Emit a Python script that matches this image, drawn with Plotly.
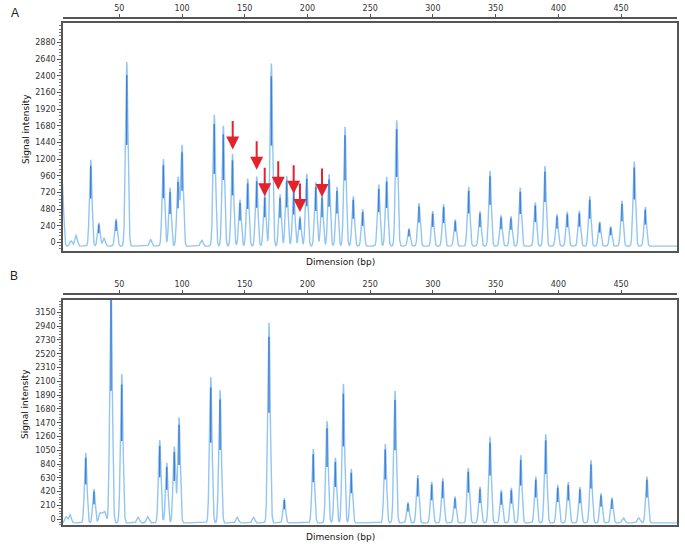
import numpy as np
import plotly.graph_objects as go

# ---------------- data ----------------
# Panel A: peak positions (bp) and peak signal intensities
top_pos = [4.5, 11.5, 15.5, 27.2, 33.6, 37.8, 47.4, 55.9, 75.0, 85.1, 90.4, 96.8, 100.0,
           115.7, 125.7, 132.9, 140.2, 146.2, 152.3, 159.5, 165.9, 171.2, 178.1, 183.4,
           189.0, 194.0, 199.4, 206.6, 211.6, 217.2, 223.5, 229.9, 236.5, 244.0, 256.8,
           263.1, 271.1, 280.9, 288.9, 299.8, 308.5, 317.8, 328.5, 337.5, 345.5, 354.3,
           362.2, 369.6, 381.6, 389.3, 398.9, 407.1, 416.7, 425.0, 432.9, 441.7, 450.7,
           460.5, 469.3]
top_val = [850, 20, 100, 1190, 280, 60, 340, 2600, 40, 1200, 790, 940, 1400,
           30, 1840, 1680, 1275, 615, 920, 950, 700, 2580, 690, 960,
           775, 375, 990, 865, 700, 980, 800, 1665, 665, 475, 835,
           945, 1760, 200, 565, 450, 550, 330, 800, 450, 1030, 390,
           375, 790, 575, 1100, 405, 440, 455, 665, 300, 230, 600,
           1165, 510]

# Panel B
bot_pos = [7.5, 10.7, 23.2, 29.8, 34.6, 36.8, 38.6, 43.4, 51.9, 65.0, 72.5, 82.2, 87.8,
           93.8, 97.6, 122.9, 130.3, 144.0, 157.0, 169.3, 181.5, 204.6, 215.6, 222.2,
           228.6, 234.9, 262.0, 269.8, 280.1, 287.9, 299.0, 307.8, 317.6, 328.2, 337.5,
           345.5, 354.5, 362.5, 370.0, 382.0, 389.9, 399.5, 407.9, 417.2, 426.0, 434.0,
           442.7, 452.0, 464.0, 470.6]
bot_val = [40, 70, 1010, 460, 90, 60, 90, 3600, 2210, 30, 40, 1205, 860,
           1105, 1550, 2160, 1965, 30, 30, 2990, 320, 1070, 1495, 940,
           2060, 765, 1145, 1955, 260, 675, 570, 625, 345, 780, 495,
           1255, 445, 480, 975, 650, 1295, 520, 565, 490, 900, 395,
           330, 20, 20, 650]

# red arrows in panel A (tip position)
arrow_pos = [140.4, 159.5, 165.9, 176.7, 189.0, 194.0, 211.6]
arrow_val = [1337, 1048, 663, 760, 702, 437, 653]

x_ticks = [50, 100, 150, 200, 250, 300, 350, 400, 450]
top_yticks = list(range(0, 2881, 240))
bot_yticks = list(range(0, 3151, 210))

# ---------------- build traces ----------------
BASE = -55.0
SIGMA = 1.0
xs = np.arange(0.0, 500.0, 0.05)


def profile(pos, val):
    y = np.full_like(xs, BASE)
    for p, v in zip(pos, val):
        y = y + (v - BASE) * np.exp(-0.5 * ((xs - p) / SIGMA) ** 2)
    return y


def cores(pos, val):
    cx, cy = [], []
    for p, v in zip(pos, val):
        if v > 150:
            a = v - BASE
            cx += [p, p, None]
            cy += [BASE + 0.55 * a, BASE + 0.93 * a, None]
    return cx, cy


LIGHT = "#92c6f1"
DARK = "#3f7fd8"
FRAME = "#555555"
FONT = "DejaVu Sans, Verdana, sans-serif"

fig = go.Figure()
fig.add_trace(go.Scatter(x=xs, y=profile(top_pos, top_val), mode="lines",
                         line=dict(color=LIGHT, width=1.4), xaxis="x", yaxis="y",
                         hoverinfo="skip", showlegend=False))
cx, cy = cores(top_pos, top_val)
fig.add_trace(go.Scatter(x=cx, y=cy, mode="lines", line=dict(color=DARK, width=1.5),
                         xaxis="x", yaxis="y", hoverinfo="skip", showlegend=False))
fig.add_trace(go.Scatter(x=[x_ticks[0]], y=[0], mode="markers", marker=dict(opacity=0),
                         xaxis="x2", yaxis="y", hoverinfo="skip", showlegend=False))

fig.add_trace(go.Scatter(x=xs, y=profile(bot_pos, bot_val), mode="lines",
                         line=dict(color=LIGHT, width=1.4), xaxis="x3", yaxis="y2",
                         hoverinfo="skip", showlegend=False))
cx, cy = cores(bot_pos, bot_val)
fig.add_trace(go.Scatter(x=cx, y=cy, mode="lines", line=dict(color=DARK, width=1.5),
                         xaxis="x3", yaxis="y2", hoverinfo="skip", showlegend=False))
fig.add_trace(go.Scatter(x=[x_ticks[0]], y=[0], mode="markers", marker=dict(opacity=0),
                         xaxis="x4", yaxis="y2", hoverinfo="skip", showlegend=False))

W, H = 685, 559
XDOM = [63 / W, 677 / W]
XR = [5.1, 494.6]

frame_x = dict(domain=XDOM, range=XR, showline=True, linecolor=FRAME, linewidth=1.5,
               mirror=True, showticklabels=False, ticks="", showgrid=False, zeroline=False,
               automargin=False)
top_x = dict(anchor="free", side="top", range=XR, showline=True, linecolor=FRAME,
             linewidth=1.5, tickvals=x_ticks, ticks="outside", ticklen=3, tickcolor=FRAME,
             tickfont=dict(family=FONT, size=8, color="#333"), showgrid=False, zeroline=False,
             automargin=False)


def yax(dom, rng, ticks, mdt):
    return dict(domain=dom, range=rng, showline=True, linecolor=FRAME, linewidth=1.5,
                mirror=True, tickvals=ticks, ticks="outside", ticklen=4, tickcolor=FRAME,
                tickfont=dict(family=FONT, size=8, color="#333"), showgrid=False,
                zeroline=False, automargin=False,
                minor=dict(dtick=mdt, tick0=0, ticks="outside", ticklen=2, tickcolor="#777",
                           showgrid=False))


fig.update_layout(
    width=W, height=H, margin=dict(l=0, r=0, t=0, b=0, autoexpand=False),
    paper_bgcolor="white", plot_bgcolor="white",
    xaxis=dict(anchor="y", **frame_x),
    xaxis2=dict(overlaying="x", position=1 - 17.7 / H, **top_x),
    yaxis=yax([1 - 251 / H, 1 - 23 / H], [-125, 3163], top_yticks, 48),
    xaxis3=dict(anchor="y2", **frame_x),
    xaxis4=dict(overlaying="x3", position=1 - 294 / H, **top_x),
    yaxis2=yax([1 - 525 / H, 1 - 300 / H], [-87, 3337], bot_yticks, 42),
)

ann = []
for p, v in zip(arrow_pos, arrow_val):
    ann.append(dict(x=p, y=v, xref="x", yref="y", ax=0, ay=-30, showarrow=True,
                    arrowhead=2, arrowsize=1.3, arrowwidth=2, arrowcolor="#e3222b",
                    text=""))

txt = dict(font=dict(family=FONT, size=9, color="#111"), showarrow=False,
           xref="paper", yref="paper", xanchor="center", yanchor="middle")
lab = dict(family="Liberation Sans, Arial", size=12, color="#222")
ann += [
    dict(x=15 / W, y=1 - 12.7 / H, text="A", font=lab, showarrow=False,
         xref="paper", yref="paper", xanchor="center", yanchor="middle"),
    dict(x=14 / W, y=1 - 276 / H, text="B", font=lab, showarrow=False,
         xref="paper", yref="paper", xanchor="center", yanchor="middle"),
    dict(x=340 / W, y=1 - 262 / H, text="Dimension (bp)", **txt),
    dict(x=340 / W, y=1 - 537 / H, text="Dimension (bp)", **txt),
    dict(x=26 / W, y=1 - 129 / H, text="Signal intensity", textangle=-90, **txt),
    dict(x=25 / W, y=1 - 404 / H, text="Signal intensity", textangle=-90, **txt),
]
fig.update_layout(annotations=ann)

fig.write_html("out.html", config={"displayModeBar": False},
               post_script="document.body.style.margin='0';document.body.style.padding='0';")
